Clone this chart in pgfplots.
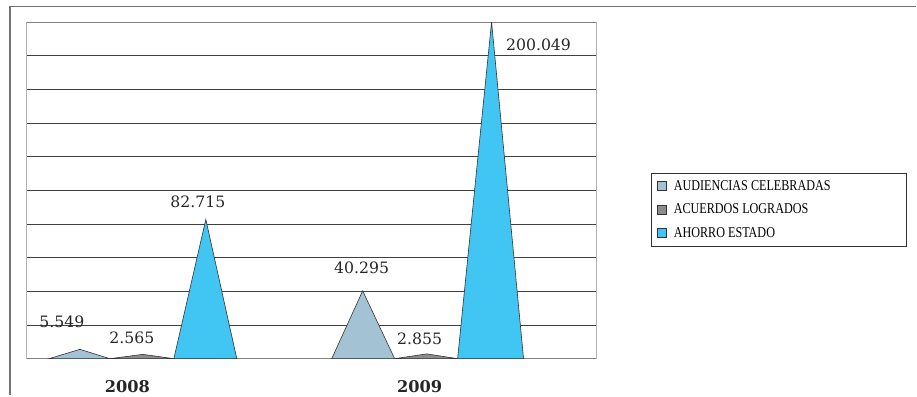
\documentclass[border=0pt]{standalone}
\usepackage{pgfplots}
\pgfplotsset{compat=1.18}
\usepackage{fontspec}
\setmainfont{DejaVu Serif}
\newfontfamily\legendfont[FakeStretch=0.81]{Liberation Serif}

\definecolor{audiencias}{HTML}{A3C2D3}
\definecolor{acuerdos}{HTML}{8C8C8C}
\definecolor{ahorro}{HTML}{41C5F2}
\definecolor{outline}{HTML}{333333}

\begin{document}
\begin{tikzpicture}[x=1pt,y=1pt]
  % page extent and outer frame
  \path (0,0) rectangle (917,395);
  \draw[black!55, line width=1.6pt] (9.8,0) -- (9.8,388.3) -- (917,388.3);

  \begin{axis}[
    at={(27pt,36pt)}, anchor=south west,
    scale only axis, width=570pt, height=337pt,
    xmin=0, xmax=570, ymin=0, ymax=200,
    clip=false,
    separate axis lines,
    x axis line style={black!50, line width=0.8pt},
    y axis line style={black!30, line width=1pt},
    ytick={0,20,...,200}, yticklabels={},
    ymajorgrids, grid style={black!75, line width=0.8pt},
    xtick={100.5,393}, xticklabels={2008,2009},
    major tick length=0pt,
    xticklabel style={font=\bfseries\fontsize{16.2}{18}\selectfont, text=black!85, anchor=center, yshift=-28pt},
    legend style={at={(1.0965,0.552)}, anchor=north west,
      draw=black!80, line width=0.6pt, fill=white,
      font=\legendfont\fontsize{15}{16}\selectfont,
      row sep=9pt, inner xsep=3pt, inner ysep=6pt,
      nodes={inner sep=1.5pt}},
    legend cell align=left,
    legend image code/.code={%
      \path (-2.5pt,0) (14.5pt,0);
      \draw[#1, draw=outline, line width=0.7pt] (0pt,-4.5pt) rectangle (9pt,4.5pt);},
  ]
    % 2008
    \addplot[fill=audiencias, draw=outline, line width=0.6pt] coordinates {(22,0) (53,5.549) (83,0)} -- cycle;
    \addlegendentry{\makebox[228pt][l]{AUDIENCIAS CELEBRADAS}}
    \addplot[fill=acuerdos, draw=outline, line width=0.6pt] coordinates {(83,0) (116,2.565) (147,0)} -- cycle;
    \addlegendentry{ACUERDOS LOGRADOS}
    \addplot[fill=ahorro, draw=outline, line width=0.6pt] coordinates {(147,0) (179,82.715) (210,0)} -- cycle;
    \addlegendentry{AHORRO ESTADO}
    % 2009
    \addplot[forget plot, fill=audiencias, draw=outline, line width=0.6pt] coordinates {(305,0) (336,40.295) (368,0)} -- cycle;
    \addplot[forget plot, fill=acuerdos, draw=outline, line width=0.6pt] coordinates {(368,0) (400,2.855) (431,0)} -- cycle;
    \addplot[forget plot, fill=ahorro, draw=outline, line width=0.6pt] coordinates {(431,0) (465,200.049) (497,0)} -- cycle;

    % value labels
    \begin{scope}[every node/.style={font=\fontsize{15.7}{17}\selectfont, text=black!85}]
      \node[xshift=-18pt, yshift=27.6pt] at (axis cs:53,5.549) {5.549};
      \node[xshift=-11pt, yshift=16.7pt] at (axis cs:116,2.565) {2.565};
      \node[xshift=-8pt, yshift=17.6pt] at (axis cs:179,82.715) {82.715};
      \node[xshift=-1pt, yshift=23pt] at (axis cs:336,40.295) {40.295};
      \node[xshift=-7pt, yshift=15.2pt] at (axis cs:400,2.855) {2.855};
      \node[xshift=47pt, yshift=-23pt] at (axis cs:465,200.049) {200.049};
    \end{scope}
  \end{axis}
\end{tikzpicture}
\end{document}
